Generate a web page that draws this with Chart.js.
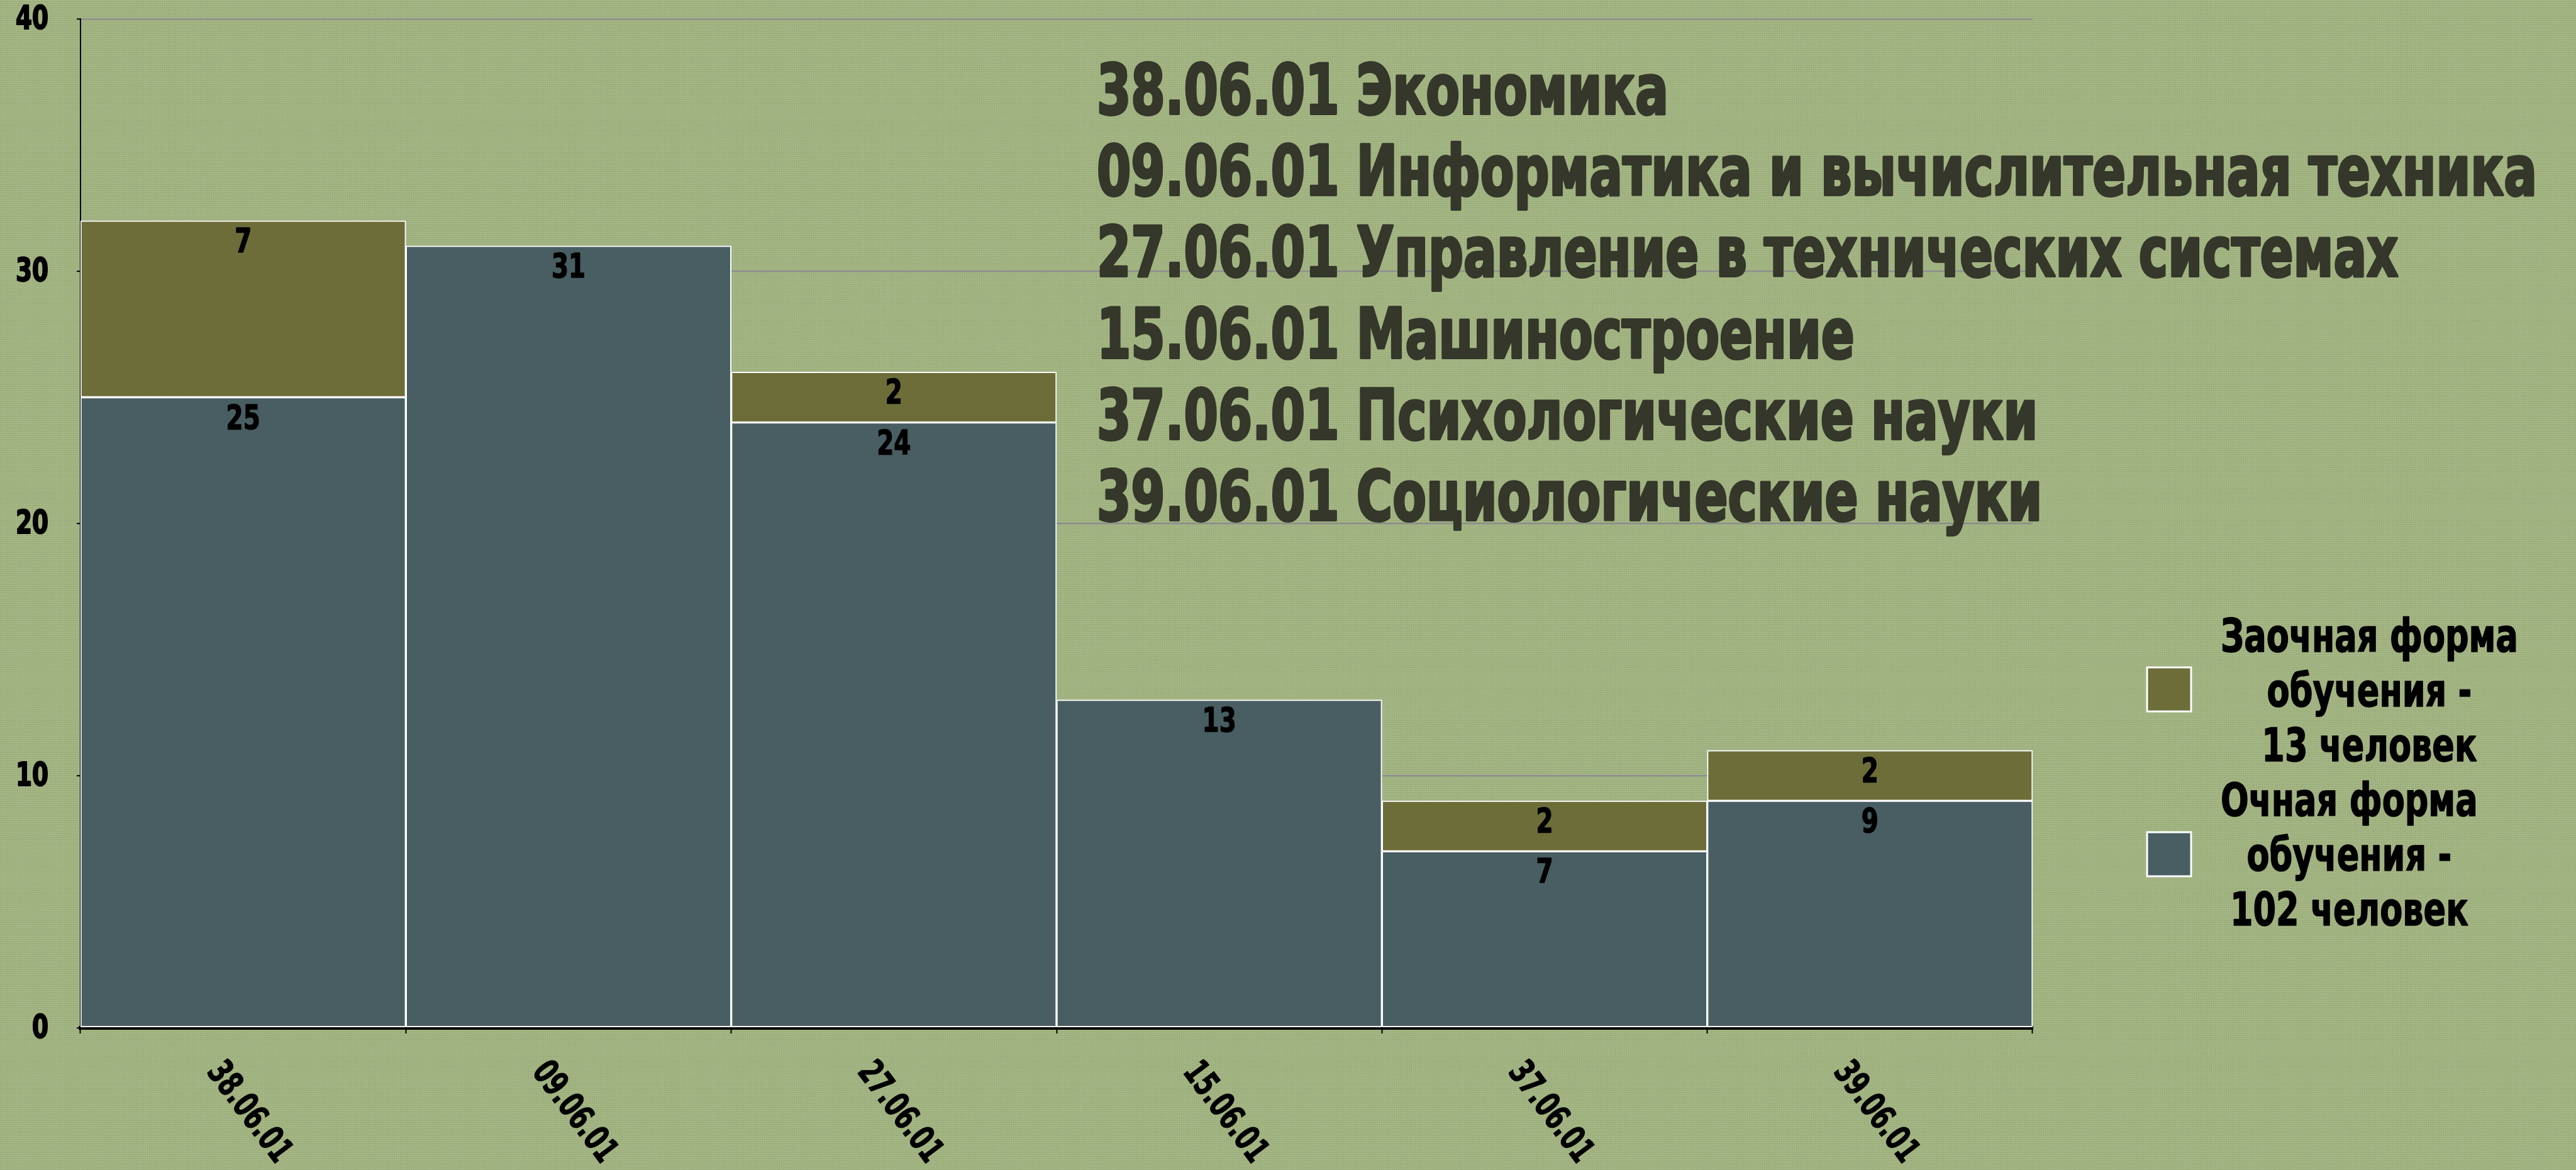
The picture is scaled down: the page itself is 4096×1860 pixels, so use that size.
<!DOCTYPE html>
<html lang="ru">
<head>
<meta charset="utf-8">
<title>Аспирантура</title>
<script src="https://cdn.jsdelivr.net/npm/chart.js@4.4.1/dist/chart.umd.min.js"></script>
<style>
    html, body { margin: 0; padding: 0; }
    body {
        width: 4096px;
        height: 1860px;
        overflow: hidden;
        background-color: #a9ba89;
        background-image:
            repeating-linear-gradient(0deg, rgba(70, 90, 40, 0.14) 0 1px, transparent 1px 3px),
            repeating-linear-gradient(90deg, rgba(70, 90, 40, 0.10) 0 1px, transparent 1px 3px);
    }
    #wrap { position: relative; width: 4096px; height: 1860px; }
</style>
</head>
<body>
<div id="wrap"><canvas id="chart"></canvas></div>
<script>
const categories = ['38.06.01', '09.06.01', '27.06.01', '15.06.01', '37.06.01', '39.06.01'];
const fullTime = [25, 31, 24, 13, 7, 9];
const partTime = [7, null, 2, null, 2, 2];
const seriesNames = ['Очная форма обучения - 102 человек', 'Заочная форма обучения - 13 человек'];
const legendLines = [
    ['Очная форма', 'обучения -', '102 человек'],
    ['Заочная форма', 'обучения -', '13 человек']
];
const titleLines = [
    '38.06.01 Экономика',
    '09.06.01 Информатика и вычислительная техника',
    '27.06.01 Управление в технических системах',
    '15.06.01 Машиностроение',
    '37.06.01 Психологические науки',
    '39.06.01 Социологические науки'
];
const yTicks = [0, 10, 20, 30, 40];

const colors = ['#485e63', '#6c6d39'];
const NARROW = "'Liberation Sans Narrow', 'Arial Narrow', 'DejaVu Sans Condensed', sans-serif";

// draws text squeezed sideways so the condensed look of the original survives
function squeezed(ctx, text, x, y, sx, stroke) {
    ctx.save();
    ctx.translate(x, y);
    ctx.scale(sx, 1);
    if (stroke) {
        ctx.lineWidth = stroke;
        ctx.lineJoin = 'round';
        ctx.strokeStyle = ctx.fillStyle;
        ctx.strokeText(text, 0, 0);
    }
    ctx.fillText(text, 0, 0);
    ctx.restore();
}

// value labels near the top of every segment
const valueLabels = {
    id: 'valueLabels',
    afterDatasetsDraw(chart) {
        const ctx = chart.ctx;
        ctx.save();
        ctx.font = 'bold 54px ' + NARROW;
        ctx.fillStyle = '#000';
        ctx.textAlign = 'center';
        ctx.textBaseline = 'middle';
        chart.data.datasets.forEach((ds, di) => {
            const meta = chart.getDatasetMeta(di);
            meta.data.forEach((bar, i) => {
                const v = ds.data[i];
                if (v === null || v === undefined) return;
                squeezed(ctx, String(v), bar.x, bar.y + 36, 0.8, 1.5);
            });
        });
        ctx.restore();
    }
};

// axis labels, title block and legend
const extras = {
    id: 'extras',
    afterDraw(chart) {
        const ctx = chart.ctx;
        const xScale = chart.scales.x;
        const yScale = chart.scales.y;

        // y tick labels, condensed
        ctx.save();
        ctx.font = 'bold 52px ' + NARROW;
        ctx.fillStyle = '#000';
        ctx.textAlign = 'right';
        ctx.textBaseline = 'middle';
        yTicks.forEach(v => {
            squeezed(ctx, String(v), 77, yScale.getPixelForValue(v) + 2, 0.8, 2);
        });
        ctx.restore();

        // slanted category labels
        ctx.save();
        ctx.font = 'bold 56px ' + NARROW;
        ctx.fillStyle = '#000';
        ctx.textAlign = 'center';
        ctx.textBaseline = 'middle';
        categories.forEach((c, i) => {
            const x = xScale.getPixelForValue(i);
            const sx = Math.min(1, 185 / ctx.measureText(c).width);
            ctx.save();
            ctx.translate(x + 8, xScale.top + 135);
            ctx.rotate(53 * Math.PI / 180);
            squeezed(ctx, c, 0, 0, sx, 1.2);
            ctx.restore();
        });
        ctx.restore();

        // title lines
        ctx.save();
        ctx.font = 'bold 110px ' + NARROW;
        ctx.fillStyle = '#34372a';
        ctx.textAlign = 'left';
        ctx.textBaseline = 'alphabetic';
        const sxT = Math.min(1.15, 2290 / ctx.measureText(titleLines[1]).width);
        titleLines.forEach((line, k) => {
            squeezed(ctx, line, 1744, 181 + k * 129.2, sxT, 4);
        });
        ctx.restore();

        // legend: part-time on top, full-time below
        ctx.save();
        ctx.font = 'bold 73px ' + NARROW;
        ctx.fillStyle = '#000';
        ctx.textAlign = 'center';
        ctx.textBaseline = 'alphabetic';
        const sxL = Math.min(1.15, 473 / ctx.measureText(legendLines[1][0]).width);
        const order = [1, 0];
        order.forEach((di, b) => {
            const lines = legendLines[di];
            const maxW = Math.max(...lines.map(l => ctx.measureText(l).width)) * sxL;
            const cx = 3531 + maxW / 2;
            lines.forEach((l, k) => {
                squeezed(ctx, l, cx, 1036 + (b * 3 + k) * 87, sxL, 1.5);
            });
            const by = b === 0 ? 1061 : 1323;
            ctx.fillStyle = colors[di];
            ctx.fillRect(3414, by, 70, 70);
            ctx.strokeStyle = '#fff';
            ctx.lineWidth = 3;
            ctx.strokeRect(3414, by, 70, 70);
            ctx.fillStyle = '#000';
        });
        ctx.restore();
    }
};

new Chart(document.getElementById('chart'), {
    type: 'bar',
    data: {
        labels: categories,
        datasets: [
            {
                label: seriesNames[0],
                data: fullTime,
                backgroundColor: colors[0],
                borderColor: '#ffffff',
                borderWidth: 2,
                borderSkipped: false,
                barPercentage: 1,
                categoryPercentage: 1
            },
            {
                label: seriesNames[1],
                data: partTime,
                backgroundColor: colors[1],
                borderColor: '#ffffff',
                borderWidth: 2,
                borderSkipped: false,
                barPercentage: 1,
                categoryPercentage: 1
            }
        ]
    },
    options: {
        responsive: true,
        maintainAspectRatio: false,
        animation: false,
        layout: { padding: { top: 30, right: 864, bottom: 0, left: 0 } },
        plugins: {
            legend: { display: false },
            tooltip: { enabled: false },
            title: { display: false }
        },
        scales: {
            x: {
                stacked: true,
                grid: {
                    display: true,
                    drawOnChartArea: false,
                    drawTicks: true,
                    tickLength: 9,
                    tickColor: '#000',
                    tickWidth: 2,
                    offset: true
                },
                border: { display: true, color: '#000', width: 6 },
                ticks: { display: false },
                afterFit: (s) => { s.height = 226; s.paddingLeft = 0; s.paddingRight = 0; }
            },
            y: {
                stacked: true,
                min: yTicks[0],
                max: yTicks[yTicks.length - 1],
                afterBuildTicks: (s) => { s.ticks = yTicks.map(v => ({ value: v })); },
                ticks: { display: false },
                grid: {
                    color: '#8e8e8e',
                    lineWidth: 2.5,
                    tickColor: '#000',
                    tickLength: 6,
                    tickWidth: 2
                },
                border: { display: true, color: '#000', width: 2 },
                afterFit: (s) => { s.width = 128; s.paddingTop = 0; s.paddingBottom = 0; }
            }
        }
    },
    plugins: [valueLabels, extras]
});
</script>
</body>
</html>
